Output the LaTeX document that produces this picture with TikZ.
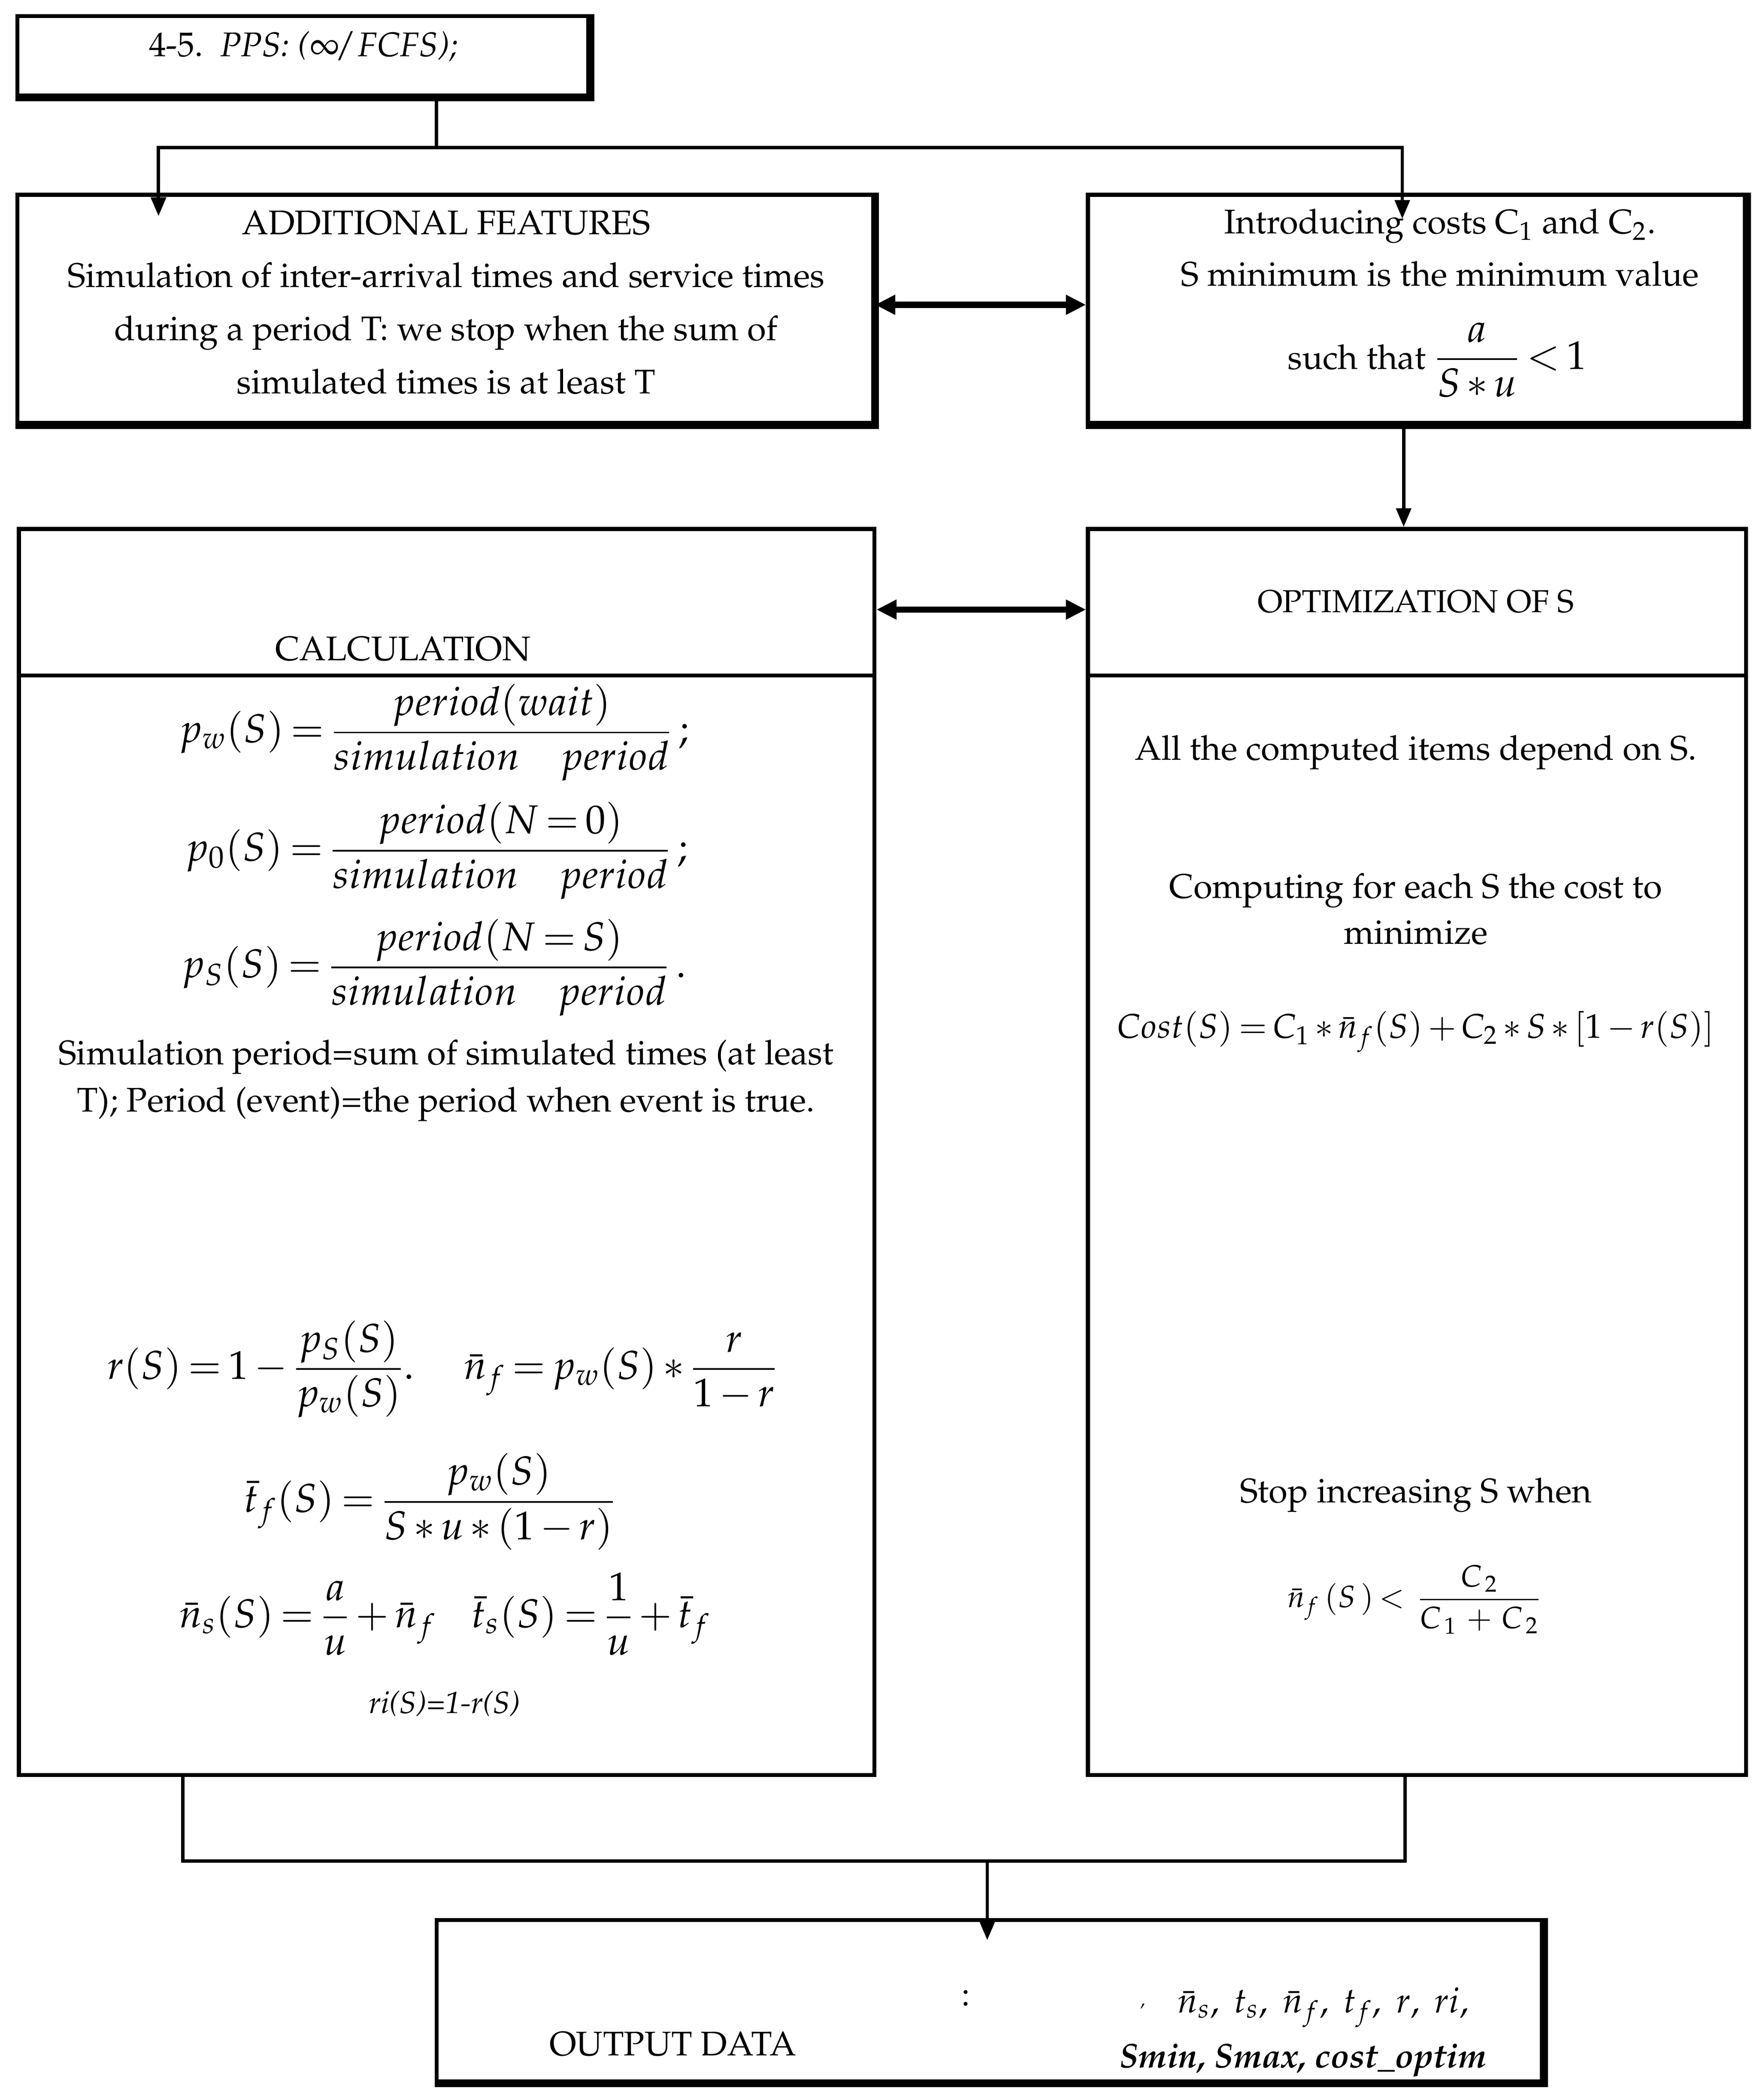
\documentclass[tikz,border=0pt]{standalone}
\usepackage[T1]{fontenc}
\usepackage{mathpazo}
\usepackage{amssymb, amsmath}
\usepackage{tikz}
\usetikzlibrary{arrows.meta, fit}
\definecolor{ink}{RGB}{0,0,0}
\thickmuskip=3mu plus 2mu
\medmuskip=2.5mu plus 1mu

\tikzset{
    frame/.style={draw=ink, line width=0.6mm, inner sep=0pt},
    heavy/.style={draw=ink, line width=1.2mm, line join=miter},
    link/.style={draw=ink, line width=0.5mm},
    arrowed/.style={-{Triangle[length=2.8mm, width=2.2mm]}},
    twoway/.style={draw=ink, line width=0.9mm, {Triangle[length=3mm, width=2.8mm]}-{Triangle[length=3mm, width=2.8mm]}},
    txt/.style={font=\fontsize{14.5}{20}\selectfont, inner sep=0pt, anchor=base},
    eq/.style={font=\fontsize{17}{20}\selectfont, inner sep=0pt, anchor=base},
}

\begin{document}
\begin{tikzpicture}[x=0.2mm, y=-0.2mm, thick]
    \useasboundingbox (0,0) rectangle (1310,1564);

    % boxes
    \node[frame, fit={(13,12) (438,71)}] (head) {};
    \node[frame, fit={(13,145) (650,315)}] (feat) {};
    \node[frame, fit={(810,145) (1299,315)}] (cost) {};
    \node[frame, fit={(14,394) (651,1322)}] (calc) {};
    \node[frame, fit={(810,394) (1300,1322)}] (optim) {};
    \node[frame, fit={(325,1430) (1148,1550)}] (out) {};
    \foreach \b in {head, feat, cost, out}
        \draw[heavy] (\b.north east) -- (\b.south east) -- (\b.south west);

    \coordinate (sep) at (0,503);
    \draw[frame] (calc.west |- sep) -- (calc.east |- sep);
    \draw[frame] (optim.west |- sep) -- (optim.east |- sep);

    % connectors
    \coordinate (split) at (325,110);
    \coordinate (featin) at (118,161);
    \coordinate (costin) at (1044,163);
    \draw[link] (head.south -| split) -- (split);
    \draw[link, arrowed] (split) -| (featin);
    \draw[link, arrowed] (split) -| (costin);

    \coordinate (mid1) at (0,227);
    \draw[twoway] (feat.east |- mid1) -- (cost.west |- mid1);
    \coordinate (drop) at (1045,0);
    \draw[link, arrowed] (cost.south -| drop) -- (optim.north -| drop);
    \coordinate (mid2) at (0,454);
    \draw[twoway] (calc.east |- mid2) -- (optim.west |- mid2);

    \coordinate (lfoot) at (136,1386);
    \coordinate (rfoot) at (1046,1386);
    \coordinate (join) at (735,1386);
    \coordinate (outin) at (735,1445);
    \draw[link] (calc.south -| lfoot) -- (lfoot) -- (rfoot) -- (optim.south -| rfoot);
    \draw[link, arrowed] (join) -- (outin);

    % texts
    \node[txt] (headtext) at (226,42) {4-5.\ \ \textit{PPS: ($\infty$/ FCFS);}};

    \foreach \ln [count=\k] in {ADDITIONAL FEATURES,
            Simulation of inter-arrival times and service times,
            during a period T: we stop when the sum of,
            simulated times is at least T}
        \node[txt] (feat-\k) at (332, 135 + 39.5*\k) {\ln};

    \node[txt] (cost-1) at (1072,174) {Introducing costs C\textsubscript{1} and C\textsubscript{2}.};
    \node[txt] (cost-2) at (1072,213) {S minimum is the minimum value};
    \node[txt] (cost-3) at (1070,275) {such that {\fontsize{17}{20}\selectfont$\displaystyle\frac{a}{S*u}<1$}};

    \node[txt] (calchead) at (300,492) {CALCULATION};
    \node[txt, font=\fontsize{13.5}{20}\selectfont] (opthead) at (1054,456) {OPTIMIZATION OF S};

    \node[eq] (pw) at (323,553) {$\displaystyle p_w(S)=\frac{period(wait)}{simulation\quad period}\;;$};
    \node[eq] (p0) at (325,641) {$\displaystyle p_0(S)=\frac{period(N=0)}{simulation\quad period}\;;$};
    \node[eq] (ps) at (323,728) {$\displaystyle p_S(S)=\frac{period(N=S)}{simulation\quad period}\;.$};
    \node[txt] (note-1) at (332,793) {Simulation period=sum of simulated times (at least};
    \node[txt] (note-2) at (332,828) {T); Period (event)=the period when event is true.};

    \node[eq] (ratio) at (194,1027) {$\displaystyle r(S)=1-\frac{p_S(S)}{p_w(S)}.$};
    \node[eq] (nf) at (462,1027) {$\displaystyle \bar{n}_f=p_w(S)*\frac{r}{1-r}$};
    \node[eq] (tf) at (320,1126) {$\displaystyle \bar{t}_f(S)=\frac{p_w(S)}{S*u*(1-r)}$};
    \node[eq] (ns) at (229,1212) {$\displaystyle \bar{n}_s(S)=\frac{a}{u}+\bar{n}_f$};
    \node[eq] (ts) at (440,1212) {$\displaystyle \bar{t}_s(S)=\frac{1}{u}+\bar{t}_f$};
    \node[txt, font=\fontsize{13}{16}\selectfont] (ri) at (331,1276) {\textit{ri(S)=1-r(S)}};

    \node[txt] (opt-1) at (1054,566) {All the computed items depend on S.};
    \node[txt] (opt-2) at (1054,669) {Computing for each S the cost to};
    \node[txt] (opt-3) at (1054,703) {minimize};
    \node[eq, font=\fontsize{14.5}{18}\selectfont] (costfn) at (1054,773)
        {$Cost(S)=C_1*\bar{n}_f(S)+C_2*S*[1-r(S)]$};
    \node[txt] (opt-4) at (1054,1119) {Stop increasing S when};
    \node[eq, font=\fontsize{13}{16}\selectfont] (stoprule) at (1053,1197)
        {$\displaystyle \bar{n}_f\,(S\,)<\ \frac{C_{\,2}}{C_{\,1}\,+\,C_{\,2}}$};

    \node[txt] (outlabel) at (501,1531) {OUTPUT DATA};
    \node[txt] (outcolon) at (719,1494) {:};
    \node[txt, font=\fontsize{8}{10}\selectfont] (outcomma) at (851,1494) {,};
    \node[eq, font=\fontsize{15}{18}\selectfont] (outvars) at (985,1499)
        {$\bar{n}_s,\ t_s,\ \bar{n}_f,\ t_f,\ r,\ ri,$};
    \node[txt] (outbest) at (970,1540) {\textbf{\textit{Smin, Smax, cost\_optim}}};
\end{tikzpicture}
\end{document}
